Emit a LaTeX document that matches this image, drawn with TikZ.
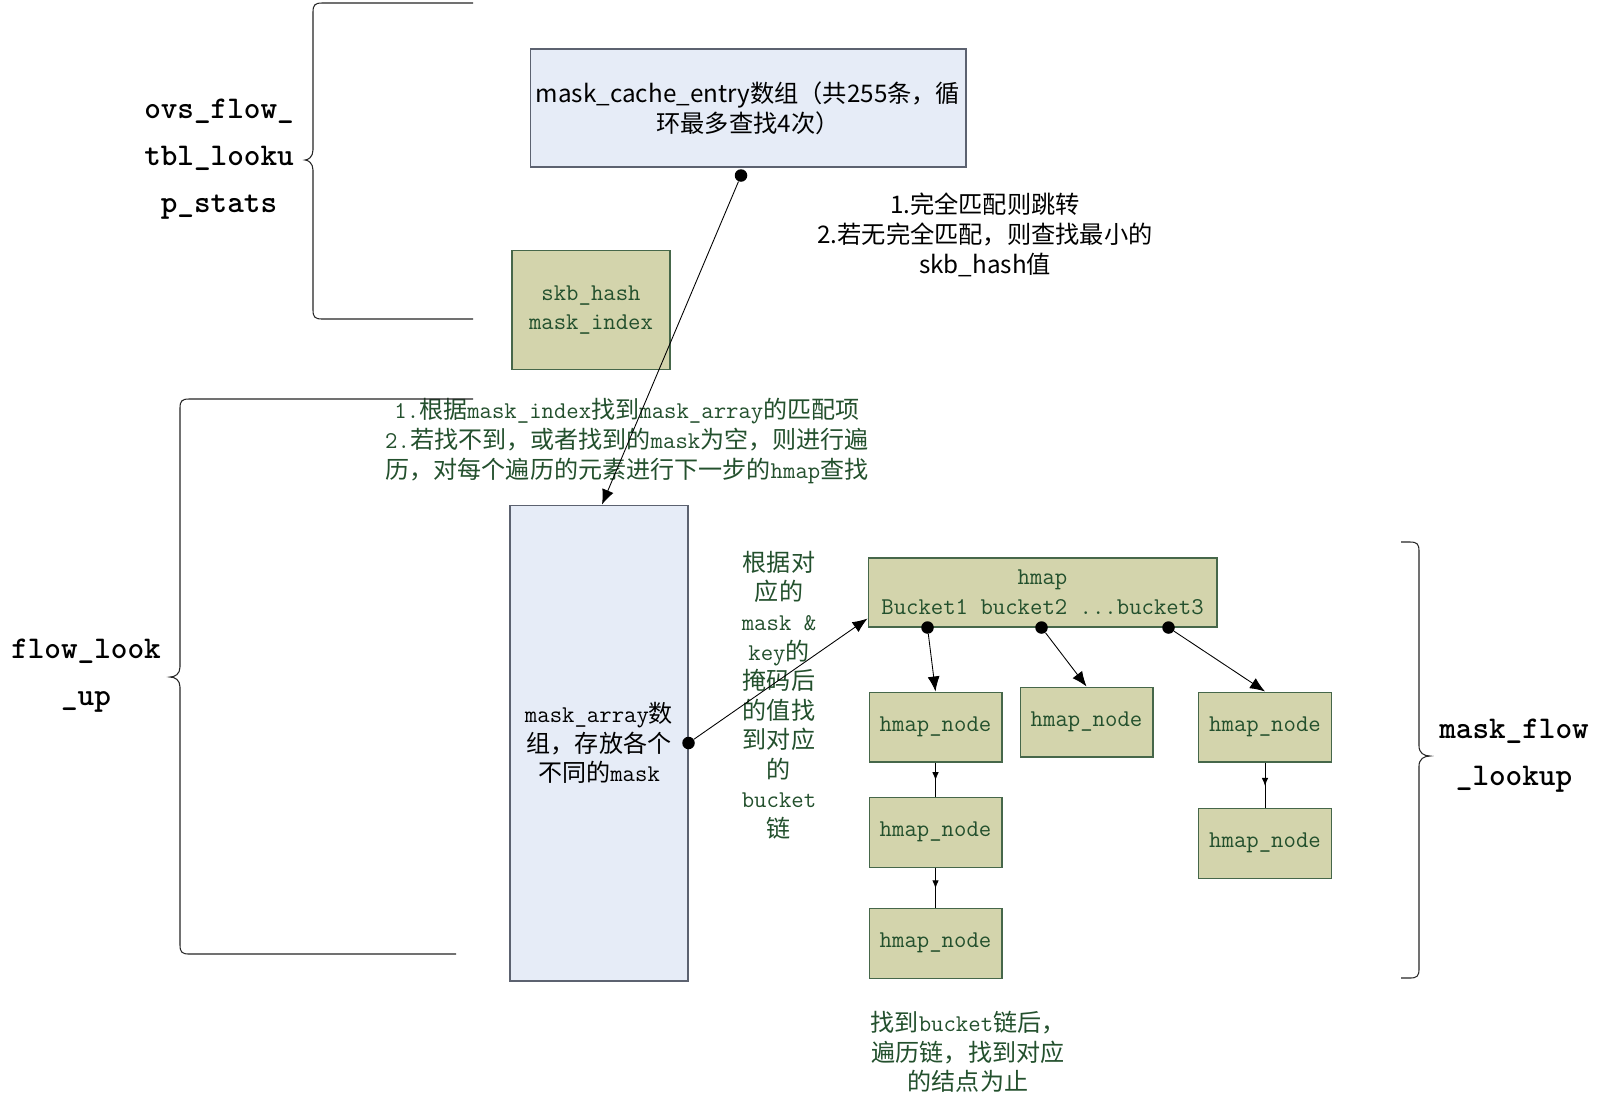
\documentclass[tikz,border=0pt]{standalone}
\usepackage{fontspec}
\newfontfamily\cjkfont{Noto Sans CJK SC}
\usetikzlibrary{positioning,calc,arrows.meta,decorations.markings}
\definecolor{ovsblue}{HTML}{E6ECF7}
\definecolor{ovsblueedge}{HTML}{5C6270}
\definecolor{ovsolive}{HTML}{D3D4AC}
\definecolor{ovsoliveedge}{HTML}{46674A}
\definecolor{ovsgreen}{HTML}{23502D}
\newcommand{\zh}[1]{{\cjkfont #1}}
\newcommand{\ovsfont}{\ttfamily\fontsize{13.7}{16.8}\selectfont}
\newcommand{\ovssans}{\cjkfont\fontsize{13.8}{17}\selectfont}

\begin{document}
\begin{tikzpicture}[x=0.02cm, y=-0.02cm,
  ovsbluebox/.style = {draw=ovsblueedge, fill=ovsblue, line width=0.6pt, inner sep=2pt, align=center},
  ovsolivebox/.style = {draw=ovsoliveedge, fill=ovsolive, line width=0.6pt, inner sep=2pt, align=center, text=ovsgreen, font=\ovsfont},
  ovsnode/.style = {ovsolivebox, minimum width=2.66cm, minimum height=1.4cm},
  ovsdot/.style = {circle, fill=black, inner sep=0pt, minimum size=0.25cm},
  ovsarrow/.style = {-{Latex[length=0.3cm, width=0.24cm]}, line width=0.5pt},
  ovschain/.style = {line width=0.5pt, postaction={decorate},
    decoration={markings, mark=at position 0.52 with {\arrow{Latex[length=0.16cm, width=0.13cm]}}}},
  ovsbrace/.style = {line width=0.6pt, black!85},
  ovsnote/.style = {align=center, text=ovsgreen, font=\ovsfont},
  ovslabel/.style = {align=center, font=\ttfamily\bfseries\fontsize{18}{26.6}\selectfont}
]
  \path[use as bounding box, fill=white] (0,0) rectangle (1601,1107);

  % 缓存部分
  \node[ovsbluebox, minimum width=8.72cm, minimum height=2.36cm, font=\ovssans] (cache) at (748,108)
    {mask\_cache\_entry数组（共255条，循\\环最多查找4次）};
  \node[align=center, font=\ovssans] (hit) at (985,235)
    {1.完全匹配则跳转\\2.若无完全匹配，则查找最小的\\skb\_hash值};
  \node[ovsolivebox, minimum width=3.16cm, minimum height=2.38cm] (skb) at (591,310)
    {skb\_hash\\mask\_index};

  % 查找部分
  \node[ovsnote] (find) at (627,441)
    {1.\zh{根据}mask\_index\zh{找到}mask\_array\zh{的匹配项}\\
     2.\zh{若找不到，或者找到的}mask\zh{为空，则进行遍}\\
     \zh{历，对每个遍历的元素进行下一步的}hmap\zh{查找}};
  \node[ovsbluebox, font=\ovsfont, minimum width=3.56cm, minimum height=9.52cm] (marr) at (599,743)
    {mask\_array\zh{数}\\\zh{组，存放各个}\\\zh{不同的}mask};
  \node[ovsnote] (how) at (779,695)
    {\zh{根据对}\\\zh{应的}\\mask \&\\key\zh{的}\\\zh{掩码后}\\\zh{的值找}\\\zh{到对应}\\\zh{的}\\bucket\\\zh{链}};
  \node[ovsolivebox, minimum width=6.98cm, minimum height=1.38cm] (hmap) at (1042.5,592.5)
    {hmap\\Bucket1 bucket2 ...bucket3};

  % hmap 节点
  \node[ovsnode] (n1) at (935.5,727) {hmap\_node};
  \node[ovsnode, below=0.68cm of n1] (n1b) {hmap\_node};
  \node[ovsnode, below=0.8cm of n1b] (n1c) {hmap\_node};
  \node[ovsnode] (n2) at (1086.5,722) {hmap\_node};
  \node[ovsnode] (n3) at (1265,727) {hmap\_node};
  \node[ovsnode, below=0.9cm of n3] (n3b) {hmap\_node};

  \node[ovsnote] (done) at (968,1052)
    {\zh{找到}bucket\zh{链后，}\\\zh{遍历链，找到对应}\\\zh{的结点为止}};

  % 括号标签
  \node[ovslabel] (lbl1) at (219,159) {ovs\_flow\_\\tbl\_looku\\p\_stats};
  \node[ovslabel] (lbl2) at (86,676) {flow\_look\\\_up};
  \node[ovslabel] (lbl3) at (1514,756) {mask\_flow\\\_lookup};

  % 括号
  \draw[ovsbrace] (473,3) -- (322,3) .. controls (315,3) and (313,5) .. (313,12) -- (313,150)
    .. controls (313,157) and (308,160) .. (305,160) .. controls (308,160) and (313,163) .. (313,170)
    -- (313,310) .. controls (313,317) and (315,319) .. (322,319) -- (473,319);
  \draw[ovsbrace] (473,399) -- (189,399) .. controls (182,399) and (180,401) .. (180,408) -- (180,667)
    .. controls (180,674) and (175,677) .. (170,677) .. controls (175,677) and (180,680) .. (180,687)
    -- (180,945) .. controls (180,952) and (182,954) .. (189,954) -- (456,954);
  \draw[ovsbrace] (1401,542) -- (1410,542) .. controls (1417,542) and (1419,544) .. (1419,551) -- (1419,746)
    .. controls (1419,753) and (1424,756) .. (1430,756) .. controls (1424,756) and (1419,759) .. (1419,766)
    -- (1419,969) .. controls (1419,976) and (1417,978) .. (1410,978) -- (1401,978);

  % 圆点
  \node[ovsdot] (d0) at ($(cache.south)+(-7,8)$) {};
  \node[ovsdot] (d1) at (marr.east) {};
  \node[ovsdot] (b1) at ($(hmap.south west)+(60,0)$) {};
  \node[ovsdot] (b2) at ($(hmap.south west)+(174,0)$) {};
  \node[ovsdot] (b3) at ($(hmap.south west)+(301,0)$) {};

  % 连线
  \draw[ovsarrow] (d0) -- ($(marr.north)+(3,0)$);
  \draw[ovsarrow] (d1) -- ($(hmap.south west)+(0,-9)$);
  \draw[ovsarrow] (b1) -- (n1.north);
  \draw[ovsarrow] (b2) -- (n2.north);
  \draw[ovsarrow] (b3) -- (n3.north);
  \draw[ovschain] (n1) -- (n1b);
  \draw[ovschain] (n1b) -- (n1c);
  \draw[ovschain] (n3) -- (n3b);
\end{tikzpicture}
\end{document}
